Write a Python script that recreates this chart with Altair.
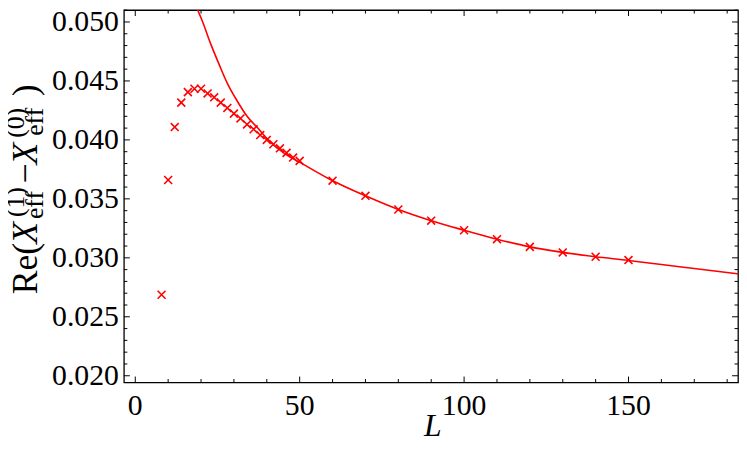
import altair as alt
import pandas as pd

# ---- data ----
L_points = [8, 10, 12, 14, 16, 18, 20, 22, 24, 26, 28, 30, 32, 34, 36, 38, 40, 42, 44, 46, 48, 50,
            60, 70, 80, 90, 100, 110, 120, 130, 140, 150]
re_points = [0.02687, 0.03660, 0.04109, 0.04316, 0.04405, 0.04434, 0.04434, 0.04394, 0.04361, 0.04316,
             0.04271, 0.04223, 0.04182, 0.04131, 0.04090, 0.04041, 0.04000, 0.03963, 0.03929, 0.03890,
             0.03850, 0.03822, 0.03654, 0.03526, 0.03410, 0.03315, 0.03234, 0.03158, 0.03093, 0.03046,
             0.03009, 0.02981]

L_curve = [17.9, 20.5, 23, 25.5, 28, 31, 34, 37.6, 40, 45, 51, 59, 70, 80, 90, 100, 110, 120,
           130, 140, 150, 160, 170, 184]
re_curve = [0.0517, 0.0500, 0.0481, 0.0464, 0.0448, 0.0433, 0.0420, 0.0409, 0.04013, 0.03892,
            0.03795, 0.03669, 0.03526, 0.03410, 0.03315, 0.03234, 0.03158, 0.03093, 0.03046,
            0.03009, 0.02978, 0.02943, 0.02910, 0.02862]

x_major = [0, 50, 100, 150]
x_minor = [10, 20, 30, 40, 60, 70, 80, 90, 110, 120, 130, 140, 160, 170, 180]
y_major = [0.020, 0.025, 0.030, 0.035, 0.040, 0.045, 0.050]
y_minor = [0.021, 0.022, 0.023, 0.024, 0.026, 0.027, 0.028, 0.029, 0.031, 0.032, 0.033, 0.034,
           0.036, 0.037, 0.038, 0.039, 0.041, 0.042, 0.043, 0.044, 0.046, 0.047, 0.048, 0.049, 0.051]

W, H = 620, 376
FONT = "Liberation Serif"
RED = "#ff0000"

xs = alt.Scale(domain=[-3.46, 183.3], nice=False, zero=False)
ys = alt.Scale(domain=[0.019428, 0.05101], nice=False, zero=False)

pts = pd.DataFrame({"L": L_points, "v": re_points})
crv = pd.DataFrame({"L": L_curve, "v": re_curve})


def X(field):
    return alt.X(f"{field}:Q", scale=xs, axis=None)


def Y(field):
    return alt.Y(f"{field}:Q", scale=ys, axis=None)


points = alt.Chart(pts).mark_point(
    shape="M-1,-1L1,1M-1,1L1,-1", filled=False, color=RED, strokeWidth=1.6, size=64, opacity=1
).encode(x=X("L"), y=Y("v"))

curve = alt.Chart(crv).mark_line(color=RED, strokeWidth=1.6, clip=True, interpolate="monotone").encode(
    x=X("L"), y=Y("v"))


def xticks(vals, length):
    df = pd.DataFrame({"t": vals})
    bottom = alt.Chart(df).mark_rule(color="black", strokeWidth=1).encode(
        x=X("t"), y=alt.value(H), y2=alt.value(H - length))
    top = alt.Chart(df).mark_rule(color="black", strokeWidth=1).encode(
        x=X("t"), y=alt.value(0), y2=alt.value(length))
    return [bottom, top]


def yticks(vals, length):
    df = pd.DataFrame({"t": vals})
    left = alt.Chart(df).mark_rule(color="black", strokeWidth=1).encode(
        y=Y("t"), x=alt.value(0), x2=alt.value(length))
    right = alt.Chart(df).mark_rule(color="black", strokeWidth=1).encode(
        y=Y("t"), x=alt.value(W), x2=alt.value(W - length))
    return [left, right]


# tick labels as text marks (serif)
x_labels = alt.Chart(pd.DataFrame({"t": x_major})).transform_calculate(
    lab="format(datum.t, 'd')"
).mark_text(font=FONT, fontSize=30, baseline="top", align="center", color="black").encode(
    x=X("t"), y=alt.value(H + 9), text="lab:N")

y_labels = alt.Chart(pd.DataFrame({"t": y_major})).transform_calculate(
    lab="format(datum.t, '.3f')"
).mark_text(font=FONT, fontSize=30, baseline="middle", align="right", color="black").encode(
    y=Y("t"), x=alt.value(-5), text="lab:N")

dummy = pd.DataFrame({"a": [0]})


def txt(s, px, py, size, style="normal", angle=270, align="left", baseline="alphabetic"):
    return alt.Chart(dummy).mark_text(
        text=s, font=FONT, fontSize=size, fontStyle=style, angle=angle, align=align,
        baseline=baseline, color="black"
    ).encode(x=alt.value(px - 125), y=alt.value(py - 8))


title_parts = [
    txt("Re(", 37, 295, 36),
    txt("X", 37, 244, 36, "italic"),
    txt("(1)", 24, 217, 26),
    txt("eff", 43, 219, 26),
    txt("\u2212", 37, 183, 36),
    txt("X", 37, 164, 36, "italic"),
    txt("(0)", 24, 137, 26),
    txt("eff", 43, 135, 26),
    txt(")", 37, 95, 36),
]
xtitle = txt("L", 437, 428, 32, "italic", angle=0, align="center", baseline="middle")

layers = [points, curve] + xticks(x_major, 6) + xticks(x_minor, 3.5) + yticks(y_major, 6) + \
    yticks(y_minor, 3.5) + [x_labels, y_labels] + title_parts + [xtitle]

chart = alt.layer(*layers).properties(
    width=W, height=H, autosize=alt.AutoSizeParams(type="none"),
    padding={"left": 117, "top": 0, "right": 1, "bottom": 60}
).configure_view(
    stroke="black", strokeWidth=1.3
)

chart.save("out.html", embed_options={"renderer": "svg", "actions": False})
